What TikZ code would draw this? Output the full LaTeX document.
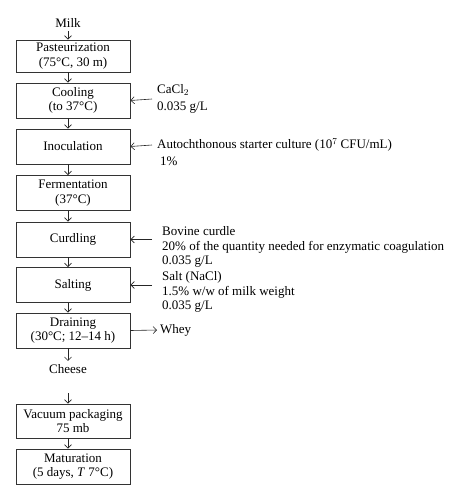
\documentclass[tikz,border=0pt]{standalone}
\usepackage{fontspec}
\setmainfont{Liberation Serif}
\usetikzlibrary{arrows.meta}

\begin{document}
\begin{tikzpicture}[x=1pt, y=-1pt,
    stage/.style={draw=black!80, line width=0.9pt, minimum width=114pt, minimum height=35pt, align=center, inner sep=1pt, font=\fontsize{13}{14.5}\selectfont},
    side/.style={anchor=west, align=left, font=\fontsize{13}{14.5}\selectfont},
    flow/.style={-{Straight Barb[length=3.5pt,width=7pt]}, line width=0.6pt, black!85}]
    \useasboundingbox (0,0) rectangle (463,500);

    \node (milk) at (68,23) [font=\fontsize{13}{14.5}\selectfont] {Milk};
    \node (past) at (73,56) [stage, minimum height=32pt] {Pasteurization\\(75°C, 30 m)};
    \node (cool) at (73,100.5) [stage] {Cooling\\(to 37°C)};
    \node (inoc) at (73,146.5) [stage] {Inoculation};
    \node (ferm) at (73,193) [stage] {Fermentation\\(37°C)};
    \node (curd) at (73,239.5) [stage] {Curdling};
    \node (salt) at (73,285) [stage] {Salting};
    \node (drain) at (73,330.5) [stage] {Draining\\(30°C; 12--14 h)};
    \node (cheese) at (68,369) [font=\fontsize{13}{14.5}\selectfont] {Cheese};
    \coordinate (gap) at (68,393);
    \node (vac) at (73,421) [stage, minimum height=34pt] {Vacuum packaging\\75 mb};
    \node (mat) at (73,466.5) [stage] {Maturation\\(5 days, \textit{T} 7°C)};

    % additions
    \node (cacl) at (152,99) [side, inner xsep=5pt] {CaCl$_2$\\[2pt]0.035 g/L};
    \node (auto) at (152,145) [side, inner xsep=5pt] {Autochthonous starter culture (10$^7$ CFU/mL)};
    \node (pct) at (160,161) [side, inner xsep=0pt] {1\%};
    \node (bov) at (152,247) [side, inner xsep=10pt] {Bovine curdle\\20\% of the quantity needed for enzymatic coagulation\\0.035 g/L};
    \node (nacl) at (152,292) [side, inner xsep=10pt] {Salt (NaCl)\\1.5\% w/w of milk weight\\0.035 g/L};
    \node (whey) at (157,330) [side, inner xsep=3pt] {Whey};

    \draw [flow] (milk.south) -- (past.north -| milk);
    \draw [flow] (past.south -| milk) -- (cool.north -| milk);
    \draw [flow] (cool.south -| milk) -- (inoc.north -| milk);
    \draw [flow] (inoc.south -| milk) -- (ferm.north -| milk);
    \draw [flow] (ferm.south -| milk) -- (curd.north -| milk);
    \draw [flow] (curd.south -| milk) -- (salt.north -| milk);
    \draw [flow] (salt.south -| milk) -- (drain.north -| milk);
    \draw [flow] (drain.south -| milk) -- (cheese.north);
    \draw [flow] (gap) -- (vac.north -| milk);
    \draw [flow] (vac.south -| milk) -- (mat.north -| milk);

    \draw [flow] (cacl.west) -- (cool.east);
    \draw [flow] (auto.west) -- (inoc.east);
    \draw [flow] (bov.west |- curd.east) -- (curd.east);
    \draw [flow] (nacl.west |- salt.east) -- (salt.east);
    \draw [flow] (drain.east) -- (whey.west);
\end{tikzpicture}
\end{document}
